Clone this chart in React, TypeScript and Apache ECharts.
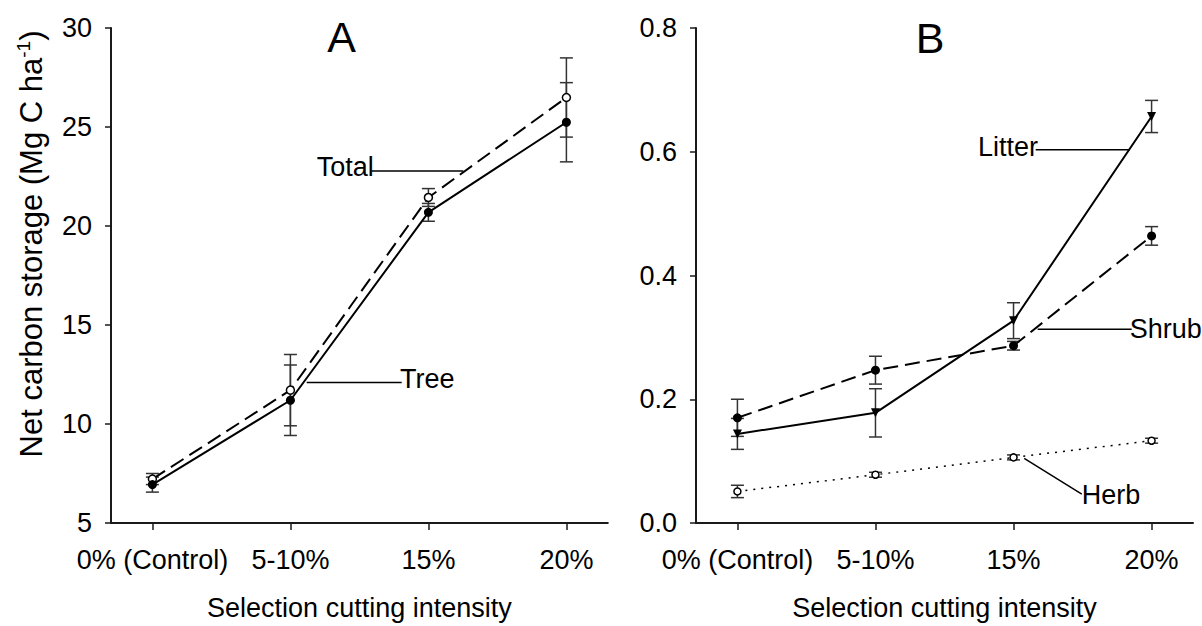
import React, { useEffect, useRef } from "react";
import * as echarts from "echarts";

const categories = ["0% (Control)", "5-10%", "15%", "20%"];
const totalMean = [7.22, 11.71, 21.44, 26.49];
const totalErr = [0.28, 1.8, 0.45, 2.0];
const treeMean = [6.94, 11.2, 20.69, 25.24];
const treeErr = [0.38, 1.78, 0.45, 2.0];
const litterMean = [0.144, 0.178, 0.327, 0.657];
const litterErr = [0.025, 0.039, 0.029, 0.026];
const shrubMean = [0.17, 0.247, 0.2865, 0.464];
const shrubErr = [0.03, 0.0225, 0.007, 0.015];
const herbMean = [0.051, 0.078, 0.106, 0.133];
const herbErr = [0.01, 0.004, 0.004, 0.004];
const catIdx = [0, 1, 2, 3];

const FONT = "Liberation Sans, Arial, sans-serif";
const INK = "#000";
const AXIS = "#1a1a1a";

function xAxisCfg(gridIndex: number) {
  return {
    type: "value",
    gridIndex,
    min: -0.3,
    max: 3.3,
    axisLine: { show: true, onZero: false, lineStyle: { color: AXIS, width: 2 } },
    axisTick: { show: true, customValues: catIdx, length: 7, lineStyle: { color: AXIS, width: 1.5 } },
    axisLabel: {
      customValues: catIdx,
      formatter: (v: number) => categories[Math.round(v)] ?? "",
      margin: 23,
      fontSize: 27,
      fontFamily: FONT,
      color: INK,
      hideOverlap: false,
    },
    splitLine: { show: false },
    name: "Selection cutting intensity",
    nameLocation: "middle",
    nameGap: 71,
    nameTextStyle: { fontSize: 27, fontFamily: FONT, color: INK },
  };
}

function yAxisCfg(gridIndex: number, min: number, max: number, interval: number, digits: number) {
  return {
    type: "value",
    gridIndex,
    min,
    max,
    interval,
    axisLine: { show: true, onZero: false, lineStyle: { color: AXIS, width: 2 } },
    axisTick: { show: true, length: 6, lineStyle: { color: AXIS, width: 1.5 } },
    axisLabel: {
      margin: 19,
      fontSize: 27,
      fontFamily: FONT,
      color: INK,
      formatter: (v: number) => v.toFixed(digits),
    },
    splitLine: { show: false },
  };
}

function errSeries(axis: number, mean: number[], err: number[]) {
  return {
    type: "custom",
    xAxisIndex: axis,
    yAxisIndex: axis,
    z: 2,
    data: mean.map((m, i) => [catIdx[i], m, err[i]]),
    encode: { x: 0, y: 1 },
    renderItem: (params: any, api: any) => {
      const x = api.value(0);
      const m = api.value(1);
      const e = api.value(2);
      const p1 = api.coord([x, m + e]);
      const p2 = api.coord([x, m - e]);
      const hw = 6.5;
      const style = { stroke: "#333", lineWidth: 1.5 };
      return {
        type: "group",
        children: [
          { type: "line", shape: { x1: p1[0], y1: p1[1], x2: p2[0], y2: p2[1] }, style },
          { type: "line", shape: { x1: p1[0] - hw, y1: p1[1], x2: p1[0] + hw, y2: p1[1] }, style },
          { type: "line", shape: { x1: p2[0] - hw, y1: p2[1], x2: p2[0] + hw, y2: p2[1] }, style },
        ],
      };
    },
  };
}

function lineSeries(
  axis: number,
  mean: number[],
  opts: { symbol: string; size: number; open: boolean; dash: any; width?: number; rotate?: number }
) {
  return {
    type: "line",
    xAxisIndex: axis,
    yAxisIndex: axis,
    z: 3,
    data: mean.map((m, i) => [catIdx[i], m]),
    symbol: opts.symbol,
    symbolSize: opts.size,
    symbolRotate: opts.rotate ?? 0,
    showAllSymbol: true,
    itemStyle: opts.open
      ? { color: "#fff", borderColor: INK, borderWidth: 1.5 }
      : { color: INK, borderColor: INK, borderWidth: 0 },
    lineStyle: { color: INK, width: opts.width ?? 2, type: opts.dash },
    emphasis: { disabled: true },
  };
}

function label(text: string, x: number, y: number, size = 27, align = "left") {
  return {
    type: "text",
    x,
    y,
    silent: true,
    style: { text, fontSize: size, fontFamily: FONT, fill: INK, align, verticalAlign: "middle" },
  };
}

function leader(x1: number, y1: number, x2: number, y2: number) {
  return {
    type: "line",
    silent: true,
    shape: { x1, y1, x2, y2 },
    style: { stroke: INK, lineWidth: 1.5 },
  };
}

export default function App() {
  const ref = useRef<HTMLDivElement>(null);
  useEffect(() => {
    document.body.style.margin = "0";
    if (!ref.current) return;
    const chart = echarts.init(ref.current, undefined, { renderer: "svg" });
    chart.setOption({
      animation: false,
      backgroundColor: "#fff",
      grid: [
        { left: 111, top: 28, width: 496.8, height: 498 },
        { left: 696, top: 28, width: 497, height: 498 },
      ],
      xAxis: [xAxisCfg(0), xAxisCfg(1)],
      yAxis: [yAxisCfg(0, 5, 30, 5, 0), yAxisCfg(1, 0, 0.8, 0.2, 1)],
      series: [
        errSeries(0, totalMean, totalErr),
        errSeries(0, treeMean, treeErr),
        lineSeries(0, totalMean, { symbol: "circle", size: 8, open: true, dash: [15, 7] }),
        lineSeries(0, treeMean, { symbol: "circle", size: 9, open: false, dash: "solid" }),
        errSeries(1, litterMean, litterErr),
        errSeries(1, shrubMean, shrubErr),
        errSeries(1, herbMean, herbErr),
        lineSeries(1, litterMean, { symbol: "triangle", size: 9, open: false, dash: "solid", rotate: 180 }),
        lineSeries(1, shrubMean, { symbol: "circle", size: 9, open: false, dash: [15, 7] }),
        lineSeries(1, herbMean, { symbol: "circle", size: 7, open: true, dash: [2, 6], width: 1.5 }),
      ],
      graphic: [
        label("A", 341.7, 37, 43, "center"),
        label("B", 930, 38, 43, "center"),
        label("Total", 316.7, 166.5),
        leader(371.7, 170.9, 463.3, 170.9),
        label("Tree", 400, 379),
        leader(306.7, 382.4, 401.7, 382.4),
        label("Litter", 978, 147),
        leader(1035.7, 149.7, 1129.7, 149.7),
        label("Shrub", 1129.7, 329),
        leader(1037.6, 329.3, 1131.7, 329.3),
        label("Herb", 1081.8, 495),
        leader(1024.2, 458.3, 1081.8, 494.2),
        {
          type: "text",
          x: 31.5,
          y: 244,
          rotation: Math.PI / 2,
          silent: true,
          style: {
            text: "{a|Net carbon storage (Mg C ha}{s|-1}{a|)}",
            align: "center",
            verticalAlign: "middle",
            fill: INK,
            rich: {
              a: { fontSize: 31, fontFamily: FONT, fill: INK, lineHeight: 35 },
              s: { fontSize: 19, fontFamily: FONT, fill: INK, verticalAlign: "top" },
            },
          },
        },
      ],
    });
    return () => chart.dispose();
  }, []);
  return <div ref={ref} style={{ width: 1202, height: 626 }} />;
}
